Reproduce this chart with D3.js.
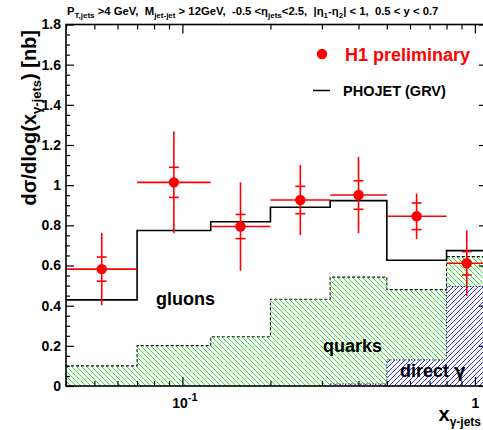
<!DOCTYPE html>
<html>
<head>
<meta charset="utf-8">
<script src="https://cdn.jsdelivr.net/npm/d3@7"></script>
<style>
  html, body { margin: 0; padding: 0; background: #fff; }
  svg { display: block; font-family: "Liberation Sans", Arial, Helvetica, sans-serif; }
  .pre { white-space: pre; }
</style>
</head>
<body>
<svg id="chart" width="483" height="430"></svg>
<script>
// Bin edges in x_gamma-jets and bin centres (geometric)
const binEdges = [0.04, 0.07, 0.125, 0.2, 0.32, 0.5, 0.8, 1.1];
const xCenters = [0.053, 0.0935, 0.158, 0.253, 0.40, 0.632, 0.938];

// H1 preliminary data with statistical and total errors [nb]
const h1Values = [0.582, 1.014, 0.794, 0.926, 0.951, 0.845, 0.611];
const statErr  = [0.060, 0.075, 0.060, 0.068, 0.071, 0.066, 0.058];
const totErr   = [0.180, 0.254, 0.220, 0.174, 0.190, 0.113, 0.163];

// PHOJET (GRV) prediction, total and its components
const phojetTotal      = [0.429, 0.774, 0.818, 0.890, 0.923, 0.626, 0.674];
const quarksPlusDirect = [0.100, 0.201, 0.245, 0.432, 0.542, 0.480, 0.644];
const directGamma      = [0.000, 0.000, 0.000, 0.000, 0.010, 0.130, 0.495];

// Axis ticks
const yTickValues = [0, 0.2, 0.4, 0.6, 0.8, 1, 1.2, 1.4, 1.6, 1.8];
const yTickLabels = ["0", "0.2", "0.4", "0.6", "0.8", "1", "1.2", "1.4", "1.6", "1.8"];
const yMinorTicks = [0.05, 0.1, 0.15, 0.25, 0.3, 0.35, 0.45, 0.5, 0.55, 0.65, 0.7, 0.75,
  0.85, 0.9, 0.95, 1.05, 1.1, 1.15, 1.25, 1.3, 1.35, 1.45, 1.5, 1.55, 1.65, 1.7, 1.75];
const xTickValues = [0.1, 1];
const xMinorTicks = [0.04, 0.05, 0.06, 0.07, 0.08, 0.09, 0.2, 0.3, 0.4, 0.5, 0.6, 0.7, 0.8, 0.9];

const svg = d3.select("#chart");
const L = 66, R = 487, T = 24.5, B = 386;

const x = d3.scaleLog().domain([0.04, 1.1]).range([L, R]);
const y = d3.scaleLinear().domain([0, 1.8]).range([B, T]);

// hatch patterns
const defs = svg.append("defs");
defs.append("pattern").attr("id", "hatchGreen")
  .attr("patternUnits", "userSpaceOnUse").attr("width", 5).attr("height", 5)
  .append("path").attr("d", "M-1,-1 L6,6 M-1,4 L1,6 M4,-1 L6,1")
  .attr("stroke", "#2ce62c").attr("stroke-width", 1);
defs.append("pattern").attr("id", "hatchBlue")
  .attr("patternUnits", "userSpaceOnUse").attr("width", 5).attr("height", 5)
  .append("path").attr("d", "M-1,6 L6,-1 M-1,1 L1,-1 M4,6 L6,4")
  .attr("stroke", "#2a2af0").attr("stroke-width", 1);

// step area helpers
const stepPoints = vals => {
  const pts = vals.map((v, i) => [binEdges[i], v]);
  pts.push([binEdges[vals.length], vals[vals.length - 1]]);
  return pts;
};
const area = d3.area().x(d => x(d[0])).y0(y(0)).y1(d => y(d[1])).curve(d3.curveStepAfter);
const line = d3.line().x(d => x(d[0])).y(d => y(d[1])).curve(d3.curveStepAfter);

// quarks (+direct) hatched region
svg.append("path").datum(stepPoints(quarksPlusDirect))
  .attr("d", area).attr("fill", "url(#hatchGreen)");
// direct photon region drawn over it
const dirPts = stepPoints(directGamma);
svg.append("path").datum(dirPts)
  .attr("d", area).attr("fill", "#fff");
svg.append("path").datum(dirPts)
  .attr("d", area).attr("fill", "url(#hatchBlue)");

// dashed outlines
svg.append("path").datum(stepPoints(quarksPlusDirect))
  .attr("d", line).attr("fill", "none").attr("stroke", "#111")
  .attr("stroke-width", 1.1).attr("stroke-dasharray", "3,2");
svg.append("path").datum(dirPts.slice(4))
  .attr("d", line).attr("fill", "none").attr("stroke", "#223")
  .attr("stroke-width", 1).attr("stroke-dasharray", "1.5,1.5");

// PHOJET total histogram
svg.append("path").datum(stepPoints(phojetTotal))
  .attr("d", line).attr("fill", "none").attr("stroke", "#000").attr("stroke-width", 1.6);

// H1 data points
const red = "#ff0000";
const pts = svg.append("g");
h1Values.forEach((v, i) => {
  const g = pts.append("g");
  g.append("line").attr("x1", x(binEdges[i])).attr("x2", x(binEdges[i + 1]))
    .attr("y1", y(v)).attr("y2", y(v)).attr("stroke", red).attr("stroke-width", 1.6);
  g.append("line").attr("x1", x(xCenters[i])).attr("x2", x(xCenters[i]))
    .attr("y1", y(v - totErr[i])).attr("y2", y(v + totErr[i])).attr("stroke", red).attr("stroke-width", 1.6);
  [v - statErr[i], v + statErr[i]].forEach(e => {
    g.append("line").attr("x1", x(xCenters[i]) - 5).attr("x2", x(xCenters[i]) + 5)
      .attr("y1", y(e)).attr("y2", y(e)).attr("stroke", red).attr("stroke-width", 1.6);
  });
  g.append("circle").attr("cx", x(xCenters[i])).attr("cy", y(v)).attr("r", 5.2).attr("fill", red);
});

// frame and axes
svg.append("rect").attr("x", L).attr("y", T).attr("width", R - L).attr("height", B - T)
  .attr("fill", "none").attr("stroke", "#000").attr("stroke-width", 1.6);

const tickStyle = g => { g.select(".domain").remove(); g.selectAll("line").attr("stroke", "#000").attr("stroke-width", 1.2); };

// left axis
svg.append("g").attr("transform", `translate(${L},0)`)
  .call(d3.axisLeft(y).tickValues(yTickValues).tickSize(-8).tickPadding(5)
    .tickFormat((d, i) => yTickLabels[i]))
  .call(tickStyle)
  .call(g => g.selectAll("text").attr("font-size", 14).attr("font-weight", "bold")
    .attr("fill", "#000").attr("font-family", "Liberation Sans, Arial, sans-serif"));
svg.append("g").attr("transform", `translate(${L},0)`)
  .call(d3.axisLeft(y).tickValues(yMinorTicks).tickSize(-4).tickFormat(""))
  .call(tickStyle);
// right axis ticks
svg.append("g").attr("transform", `translate(${R},0)`)
  .call(d3.axisRight(y).tickValues(yTickValues).tickSize(-8).tickFormat(""))
  .call(tickStyle);
svg.append("g").attr("transform", `translate(${R},0)`)
  .call(d3.axisRight(y).tickValues(yMinorTicks).tickSize(-4).tickFormat(""))
  .call(tickStyle);

// bottom axis
const xAxisG = svg.append("g").attr("transform", `translate(0,${B})`)
  .call(d3.axisBottom(x).tickValues(xTickValues).tickSize(-9).tickPadding(10).tickFormat(""))
  .call(tickStyle);
svg.append("g").attr("transform", `translate(0,${B})`)
  .call(d3.axisBottom(x).tickValues(xMinorTicks).tickSize(-5).tickFormat(""))
  .call(tickStyle);
// top axis ticks
svg.append("g").attr("transform", `translate(0,${T})`)
  .call(d3.axisTop(x).tickValues(xTickValues).tickSize(-9).tickFormat(""))
  .call(tickStyle);
svg.append("g").attr("transform", `translate(0,${T})`)
  .call(d3.axisTop(x).tickValues(xMinorTicks).tickSize(-5).tickFormat(""))
  .call(tickStyle);

// x tick labels (10^-1 with superscript, and 1)
const xl = xAxisG.selectAll(".tick").append("text")
  .attr("y", 22).attr("text-anchor", "middle").attr("font-size", 14)
  .attr("font-weight", "bold").attr("fill", "#000");
xl.each(function(d) {
  const t = d3.select(this);
  if (d === 0.1) {
    t.attr("x", 2);
    t.append("tspan").text("10");
    t.append("tspan").attr("dy", -7).attr("font-size", 11).text("-1");
  } else {
    t.text("1");
  }
});

// axis titles
const yTitle = svg.append("text").attr("transform", "translate(36,30) rotate(-90)")
  .attr("text-anchor", "end").attr("font-size", 20).attr("font-weight", "bold");
yTitle.append("tspan").text("dσ/dlog(x");
yTitle.append("tspan").attr("font-size", 13).attr("dy", 5).text("γ-jets");
yTitle.append("tspan").attr("dy", -5).text(") [nb]");

const xTitle = svg.append("text").attr("x", 481).attr("y", 421)
  .attr("text-anchor", "end").attr("font-size", 20).attr("font-weight", "bold");
xTitle.append("tspan").text("x");
xTitle.append("tspan").attr("font-size", 12).attr("dy", 5).text("γ-jets");

// header with cuts
const head = svg.append("text").attr("class", "pre").attr("x", 67).attr("y", 15)
  .attr("font-size", 11.3).attr("font-weight", "bold");
const headParts = [
  ["P", 0], ["T,jets", 1], [" >4 GeV,  M", 0], ["jet-jet", 1], [" > 12GeV,  -0.5 <η", 0],
  ["jets", 1], ["<2.5,  |η", 0], ["1", 1], ["-η", 0], ["2", 1], ["| < 1,  0.5 < y < 0.7", 0]
];
let prevSub = 0;
headParts.forEach(([s, sub]) => {
  const ts = head.append("tspan").text(s);
  if (sub) ts.attr("font-size", 8);
  if (sub !== prevSub) ts.attr("dy", sub ? 3 : -3);
  prevSub = sub;
});

// legend
svg.append("circle").attr("cx", 322).attr("cy", 54).attr("r", 5.2).attr("fill", red);
svg.append("text").attr("x", 345).attr("y", 61).attr("font-size", 18)
  .attr("font-weight", "bold").attr("fill", red).text("H1 preliminary");
svg.append("line").attr("x1", 313).attr("x2", 330).attr("y1", 90.5).attr("y2", 90.5)
  .attr("stroke", "#000").attr("stroke-width", 1.5);
svg.append("text").attr("x", 343).attr("y", 96).attr("font-size", 14.5)
  .attr("font-weight", "bold").text("PHOJET (GRV)");

// component labels
svg.append("text").attr("x", 156).attr("y", 305).attr("font-size", 18)
  .attr("font-weight", "bold").text("gluons");
svg.append("text").attr("x", 323).attr("y", 352).attr("font-size", 18)
  .attr("font-weight", "bold").text("quarks");
const dl = svg.append("text").attr("x", 400).attr("y", 377).attr("font-size", 18)
  .attr("font-weight", "bold");
dl.append("tspan").text("direct ");
dl.append("tspan").attr("font-family", "DejaVu Sans").attr("font-size", 17).text("γ");
</script>
</body>
</html>
